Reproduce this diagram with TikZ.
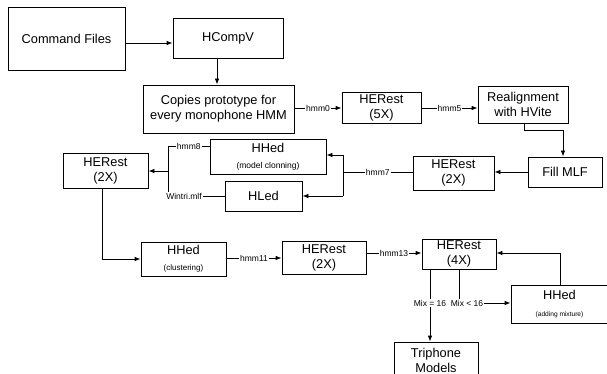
\documentclass[tikz,border=0pt]{standalone}
\usepackage{fontspec}
\setmainfont{Liberation Sans}
\usetikzlibrary{arrows.meta}
\newcommand\boxfont{\fontsize{12.8}{15}\selectfont}
\newcommand\lblfont{\fontsize{8.5}{10}\selectfont}
\newcommand\subfnt[1]{\fontsize{#1}{#1}\selectfont}
\tikzset{
  box/.style={draw, line width=0.8pt, inner sep=0pt, align=center, font=\boxfont},
  arr/.style={-{Latex[length=6pt,width=4.5pt]}, line width=0.8pt},
  ln/.style={line width=0.8pt},
  lbl/.style={fill=white, inner sep=1pt, font=\lblfont},
}
\begin{document}
\begin{tikzpicture}[x=1pt,y=-1pt]
\useasboundingbox (0,0) rectangle (607,374);
% boxes
\node[box, minimum width=117pt, minimum height=63pt] (cmd) at (66.5,38.5) {Command Files};
\node[box, minimum width=110pt, minimum height=40pt] (hcompv) at (228,38) {HCompV};
\node[box, minimum width=151pt, minimum height=48pt] (copies) at (218.5,109) {Copies prototype for\\every monophone HMM};
\node[box, minimum width=79pt, minimum height=31pt] (herest5) at (381.5,107.5) {HERest\\(5X)};
\node[box, minimum width=90pt, minimum height=37pt] (realign) at (523,104.5) {Realignment\\with HVite};
\node[box, minimum width=74pt, minimum height=30pt] (fill) at (565,172) {Fill MLF};
\node[box, minimum width=81pt, minimum height=34pt] (herest2a) at (453.5,173) {HERest\\(2X)};
\node[box, minimum width=116pt, minimum height=35pt] (hhed1) at (268,156.5) {HHed\\[1pt]{\subfnt{8.5}(model clonning)}};
\node[box, minimum width=77pt, minimum height=30pt] (hled) at (263.5,196) {HLed};
\node[box, minimum width=85pt, minimum height=35pt] (herest2b) at (105.5,170.5) {HERest\\(2X)};
\node[box, minimum width=85pt, minimum height=34pt] (hhed2) at (183.5,259) {HHed\\[1pt]{\subfnt{8}(clustering)}};
\node[box, minimum width=84pt, minimum height=33pt] (herest2c) at (324,257.5) {HERest\\(2X)};
\node[box, minimum width=74pt, minimum height=30pt] (herest4) at (459,254) {HERest\\(4X)};
\node[box, minimum width=108pt, minimum height=38pt] (hhed3) at (565,304) {\hspace*{-11pt}HHed\\[2pt]\hspace*{-11pt}{\subfnt{6.6}(adding mixture)}};
\node[box, minimum width=84pt, minimum height=36pt] (triphone) at (436,360) {Triphone\\Models};
% connectors
\draw[arr] (cmd.east |- 0,43) -- (hcompv.west |- 0,43);
\draw[arr] (hcompv.south -| 217,0) -- (copies.north -| 217,0);
\draw[arr] (copies.east |- 0,108) -- node[lbl]{hmm0} (herest5.west |- 0,108);
\draw[arr] (herest5.east |- 0,108) -- node[lbl]{hmm5} (realign.west |- 0,108);
\draw[arr] (realign.south -| 524,0) |- (563,130) -- (fill.north -| 563,0);
\draw[arr] (fill.west |- 0,172) -- (herest2a.east |- 0,172);
\coordinate (j7t) at (343,155);
\coordinate (j7b) at (343,196);
\draw[ln] (herest2a.west |- 0,172) -- node[lbl]{hmm7} (j7t |- 0,172);
\draw[ln] (j7t) -- (j7b);
\draw[arr] (j7t) -- (hhed1.east |- j7t);
\draw[arr] (j7b) -- (hled.east |- j7b);
\coordinate (j8t) at (168,146);
\coordinate (j8b) at (168,196);
\coordinate (j8m) at (168,171);
\draw[ln] (hhed1.west |- j8t) -- node[lbl]{hmm8} (j8t) -- (j8b);
\node[lbl] (wintri) at (184,196) {Wintri.mlf};
\draw[ln] (wintri.east) -- (hled.west |- wintri.east);
\draw[arr] (j8m) -- (herest2b.east |- j8m);
\draw[arr] (herest2b.south -| 102,0) |- (hhed2.west);
\draw[arr] (hhed2.east |- 0,258) -- node[lbl]{hmm11} (herest2c.west |- 0,258);
\draw[arr] (herest2c.east |- 0,253) -- node[lbl]{hmm13} (herest4.west |- 0,253);
\draw[arr] (herest4.south -| 430,0) -- node[lbl, pos=0.466]{Mix = 16} (triphone.north -| 430,0);
\draw[arr] (herest4.south -| 459,0) |- (hhed3.west |- 0,303);
\node[lbl] (mixlt) at (467,303) {Mix < 16};
\draw[arr] (hhed3.north -| 560,0) |- (herest4.east |- 0,253);
\end{tikzpicture}
\end{document}
